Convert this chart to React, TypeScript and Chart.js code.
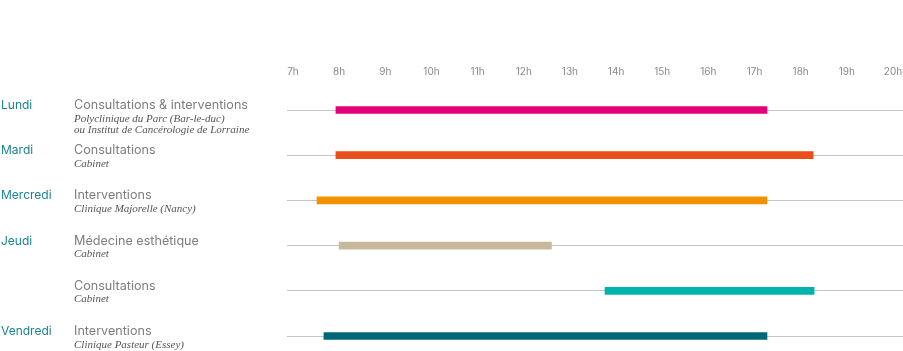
import React, { useEffect, useRef } from "react";
import { Chart, registerables } from "chart.js";

Chart.register(...registerables);

const HOURS = [7, 8, 9, 10, 11, 12, 13, 14, 15, 16, 17, 18, 19, 20];
const HOUR_LABELS = ["7h", "8h", "9h", "10h", "11h", "12h", "13h", "14h", "15h", "16h", "17h", "18h", "19h", "20h"];

const DAYS = ["Lundi", "Mardi", "Mercredi", "Jeudi", "", "Vendredi"];
const TITLES = [
  "Consultations & interventions",
  "Consultations",
  "Interventions",
  "Médecine esthétique",
  "Consultations",
  "Interventions",
];
const PLACES = [
  ["Polyclinique du Parc (Bar-le-duc)", "ou Institut de Cancérologie de Lorraine"],
  ["Cabinet"],
  ["Clinique Majorelle (Nancy)"],
  ["Cabinet"],
  ["Cabinet"],
  ["Clinique Pasteur (Essey)"],
];
const STARTS = [7.93, 7.93, 7.52, 8.0, 13.76, 7.67];
const ENDS = [17.27, 18.27, 17.27, 12.6, 18.29, 17.27];
const COLORS = ["#e2007a", "#e94e1b", "#f39200", "#c9b99c", "#00b3ad", "#006874"];

const DAY_COLOR = "#1a8491";
const TITLE_COLOR = "#7d7d7d";
const PLACE_COLOR = "#555555";
const TICK_COLOR = "#8a8a8a";

const leftLabels = {
  id: "leftLabels",
  afterDraw(chart: any) {
    const ctx = chart.ctx;
    const y = chart.scales.y;
    ctx.save();
    ctx.textAlign = "left";
    ctx.textBaseline = "alphabetic";
    DAYS.forEach((d, i) => {
      const py = y.getPixelForValue(i);
      ctx.font = "12px Inter";
      ctx.fillStyle = DAY_COLOR;
      ctx.fillText(d, 1, py - 1);
      ctx.font = "12.6px Inter";
      ctx.fillStyle = TITLE_COLOR;
      ctx.fillText(TITLES[i], 74, py - 1);
      ctx.font = "italic 11px 'Liberation Serif'";
      ctx.fillStyle = PLACE_COLOR;
      PLACES[i].forEach((p, j) => ctx.fillText(p, 74, py + 11.5 + j * 11.5));
    });
    ctx.restore();
  },
};

export default function App() {
  const ref = useRef<HTMLCanvasElement>(null);
  useEffect(() => {
    if (!ref.current) return;
    const chart = new Chart(ref.current, {
      type: "bar",
      data: {
        labels: TITLES.map((t, i) => `${i}`),
        datasets: [
          {
            data: STARTS.map((s, i) => [s, ENDS[i]]) as any,
            backgroundColor: COLORS,
            barThickness: 7,
            borderWidth: 0,
            borderSkipped: false,
            clip: false as any,
          },
        ],
      },
      options: {
        indexAxis: "y",
        animation: false,
        responsive: false,
        layout: { padding: { left: 0, right: 0, top: 0, bottom: 15 } },
        plugins: { legend: { display: false }, tooltip: { enabled: false } },
        scales: {
          x: {
            type: "linear",
            position: "top",
            min: 6.87,
            max: 20.2167,
            afterBuildTicks: (scale: any) => {
              scale.ticks = HOURS.map((v) => ({ value: v }));
            },
            afterFit: (scale: any) => {
              scale.height = 110;
              scale.paddingLeft = 0;
              scale.paddingRight = 0;
            },
            ticks: {
              callback: (v: any) => HOUR_LABELS[HOURS.indexOf(Number(v))] ?? "",
              color: TICK_COLOR,
              font: { family: "Inter", size: 10 },
              padding: 32,
              maxRotation: 0,
              autoSkip: false,
            },
            grid: { display: false, drawTicks: false },
            border: { display: false },
          },
          y: {
            offset: false,
            afterFit: (scale: any) => {
              scale.width = 287;
              scale.paddingTop = 0;
              scale.paddingBottom = 0;
            },
            ticks: { display: false },
            grid: { offset: false, color: "#c4c4c4", lineWidth: 1, drawTicks: false },
            border: { display: false },
          },
        },
      },
      plugins: [leftLabels],
    });
    return () => chart.destroy();
  }, []);
  return (
    <div style={{ position: "fixed", left: 0, top: 0, width: 903, height: 351, background: "#fff" }}>
      <canvas ref={ref} width={903} height={351} style={{ display: "block" }} />
    </div>
  );
}
